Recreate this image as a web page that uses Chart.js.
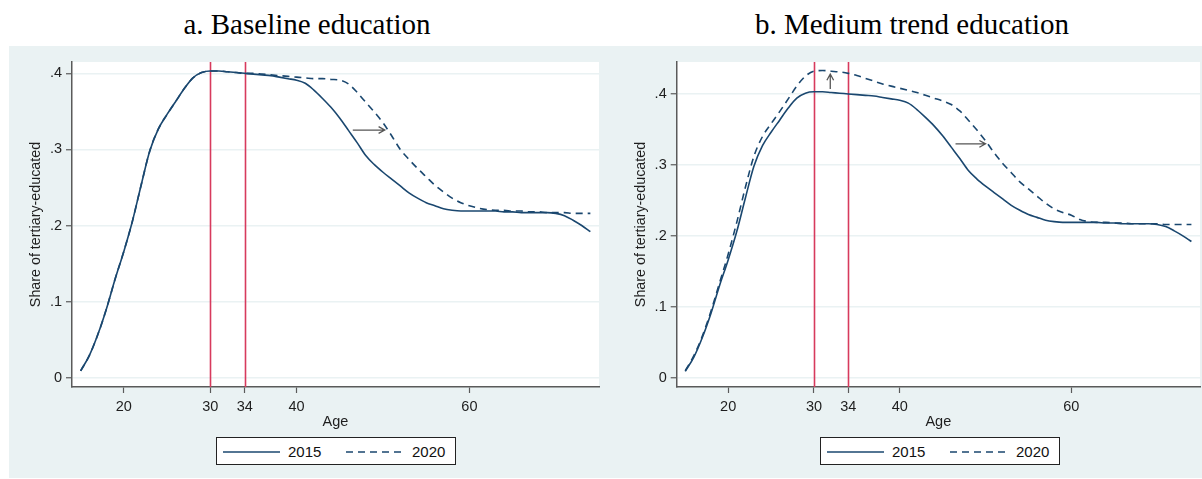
<!DOCTYPE html>
<html>
<head>
<meta charset="utf-8">
<script src="https://cdn.jsdelivr.net/npm/chart.js@4.4.1/dist/chart.umd.min.js"></script>
<style>
  body { margin: 0; width: 1202px; height: 479px; background: #fff; position: relative; overflow: hidden;
         font-family: "Liberation Sans", Arial, sans-serif; }
  #bg { position: absolute; left: 9px; top: 46px; width: 1193px; height: 432px; background: #eaf2f3; }
  .title { position: absolute; top: 10px; line-height: 29px; font-family: "Liberation Serif", "Times New Roman", serif;
           font-size: 29px; color: #000; white-space: nowrap; transform: translateX(-50%); }
  canvas { position: absolute; top: 0; }
  .legend { position: absolute; top: 437px; width: 240px; height: 28px; box-sizing: border-box; border: 1px solid #222;
            background: #fff; font-size: 15px; color: #111; }
  .legend svg { position: absolute; top: 0; left: 0; }
  .legend span { position: absolute; top: 5px; }
</style>
</head>
<body>
<div id="bg"></div>
<div class="title" style="left:307px">a. Baseline education</div>
<div class="title" style="left:912px">b. Medium trend education</div>
<canvas id="left" width="601" height="479" style="left:0"></canvas>
<canvas id="right" width="601" height="479" style="left:601px"></canvas>

<div class="legend" style="left:216px">
  <svg width="240" height="28"><line x1="6" y1="14" x2="63" y2="14" stroke="#1a476f" stroke-width="1.5"/>
    <line x1="129" y1="14" x2="187" y2="14" stroke="#1a476f" stroke-width="1.5" stroke-dasharray="7 5"/></svg>
  <span style="left:71px">2015</span><span style="left:195px">2020</span>
</div>
<div class="legend" style="left:820px">
  <svg width="240" height="28"><line x1="6" y1="14" x2="63" y2="14" stroke="#1a476f" stroke-width="1.5"/>
    <line x1="129" y1="14" x2="187" y2="14" stroke="#1a476f" stroke-width="1.5" stroke-dasharray="7 5"/></svg>
  <span style="left:71px">2015</span><span style="left:195px">2020</span>
</div>

<script>
// age profile, share of tertiary-educated
const ages = [15, 16, 17, 18, 19, 20, 21, 22, 23, 24, 25, 26, 27, 28, 29, 30, 31, 32, 33, 34,
              35, 36, 37, 38, 39, 40, 41, 42, 43, 44, 45, 46, 47, 48, 49, 50, 51, 52, 53, 54,
              55, 56, 57, 58, 59, 60, 61, 62, 63, 64, 65, 66, 67, 68, 69, 70, 71, 72, 73, 74];

const share2015 = [0.009, 0.029, 0.057, 0.091, 0.130, 0.166, 0.206, 0.253, 0.298, 0.327,
                   0.346, 0.363, 0.380, 0.394, 0.401, 0.403, 0.403, 0.402, 0.401, 0.400,
                   0.399, 0.398, 0.397, 0.395, 0.393, 0.391, 0.387, 0.378, 0.367, 0.355,
                   0.341, 0.325, 0.309, 0.292, 0.280, 0.270, 0.261, 0.252, 0.243, 0.236,
                   0.230, 0.226, 0.222, 0.220, 0.219, 0.219, 0.219, 0.219, 0.219, 0.218,
                   0.218, 0.217, 0.217, 0.217, 0.217, 0.216, 0.213, 0.207, 0.200, 0.192];

const baseline2020 = [0.009, 0.029, 0.057, 0.091, 0.130, 0.166, 0.206, 0.253, 0.298, 0.327,
                      0.346, 0.363, 0.380, 0.394, 0.401, 0.403, 0.403, 0.402, 0.401, 0.400,
                      0.400, 0.399, 0.398, 0.397, 0.396, 0.395, 0.394, 0.393, 0.393, 0.392,
                      0.391, 0.386, 0.375, 0.362, 0.349, 0.335, 0.318, 0.300, 0.287, 0.275,
                      0.264, 0.253, 0.244, 0.236, 0.230, 0.226, 0.223, 0.221, 0.220, 0.220,
                      0.219, 0.219, 0.218, 0.218, 0.217, 0.217, 0.217, 0.216, 0.216, 0.216];

const medium2020 = [0.010, 0.031, 0.059, 0.094, 0.134, 0.174, 0.219, 0.268, 0.312, 0.340,
                    0.358, 0.375, 0.393, 0.411, 0.425, 0.432, 0.433, 0.432, 0.431, 0.429,
                    0.426, 0.422, 0.418, 0.414, 0.411, 0.408, 0.405, 0.402, 0.398, 0.394,
                    0.390, 0.385, 0.376, 0.363, 0.349, 0.334, 0.317, 0.302, 0.289, 0.276,
                    0.266, 0.256, 0.246, 0.238, 0.233, 0.229, 0.223, 0.220, 0.219, 0.219,
                    0.218, 0.218, 0.217, 0.217, 0.217, 0.217, 0.216, 0.216, 0.216, 0.216];

const ageTicks = [20, 30, 34, 40, 60];
const shareTicks = [0, 0.1, 0.2, 0.3, 0.4];
const markedAges = [30, 34];

const navy = '#1a476f';
const axisGray = '#5a5a5a';

const decor = {
  id: 'decor',
  beforeDraw(chart) {
    const { ctx, chartArea: a } = chart;
    ctx.save();
    ctx.fillStyle = '#fff';
    ctx.fillRect(a.left, a.top, a.right - a.left, a.bottom - a.top);
    ctx.restore();
  },
  beforeDatasetsDraw(chart) {
    const { ctx, chartArea: a, scales: { x } } = chart;
    ctx.save();
    ctx.strokeStyle = '#d73a5d';
    ctx.lineWidth = 1.6;
    markedAges.forEach(age => {
      const px = Math.round(x.getPixelForValue(age)) + 0.5;
      ctx.beginPath();
      ctx.moveTo(px, a.top);
      ctx.lineTo(px, a.bottom);
      ctx.stroke();
    });
    ctx.restore();
  },
  afterDatasetsDraw(chart, args, opts) {
    const { ctx, scales: { x, y } } = chart;
    ctx.save();
    ctx.strokeStyle = '#555';
    ctx.lineWidth = 1.3;
    (opts.arrows || []).forEach(ar => {
      const x0 = x.getPixelForValue(ar.from[0]), y0 = y.getPixelForValue(ar.from[1]);
      const x1 = x.getPixelForValue(ar.to[0]), y1 = y.getPixelForValue(ar.to[1]);
      const ang = Math.atan2(y1 - y0, x1 - x0), h = 7;
      ctx.beginPath();
      ctx.moveTo(x0, y0);
      ctx.lineTo(x1, y1);
      ctx.moveTo(x1 - h * Math.cos(ang - 0.5), y1 - h * Math.sin(ang - 0.5));
      ctx.lineTo(x1, y1);
      ctx.lineTo(x1 - h * Math.cos(ang + 0.5), y1 - h * Math.sin(ang + 0.5));
      ctx.stroke();
    });
    ctx.restore();
  }
};

function points(values) {
  return ages.map((a, i) => ({ x: a, y: values[i] }));
}

function panel(id, later, yMin, yMax, axisWidth, titlePad, arrows) {
  return new Chart(document.getElementById(id), {
    type: 'line',
    data: {
      datasets: [
        { label: '2015', data: points(share2015), borderColor: navy },
        { label: '2020', data: points(later), borderColor: navy, borderDash: [7, 5] }
      ]
    },
    options: {
      responsive: false,
      animation: false,
      devicePixelRatio: 1,
      layout: { padding: { top: 62, right: 2, bottom: 42, left: 0 } },
      elements: {
        point: { radius: 0 },
        line: { borderWidth: 1.6, cubicInterpolationMode: 'monotone' }
      },
      plugins: {
        legend: { display: false },
        tooltip: { enabled: false },
        decor: { arrows }
      },
      scales: {
        x: {
          type: 'linear', min: 14, max: 75,
          afterBuildTicks: s => { s.ticks = ageTicks.map(v => ({ value: v })); },
          afterFit: s => { s.height = 50; },
          grid: { drawOnChartArea: false, tickLength: 6, tickColor: axisGray, tickWidth: 1.2 },
          border: { color: axisGray, width: 1.5 },
          ticks: { font: { size: 14.5 }, color: '#1e1e1e', padding: 5, maxRotation: 0, autoSkip: false },
          title: { display: true, text: 'Age', font: { size: 14.5 }, color: '#1e1e1e', padding: { top: 0, bottom: 6 } }
        },
        y: {
          min: yMin, max: yMax,
          afterBuildTicks: s => { s.ticks = shareTicks.map(v => ({ value: v })); },
          afterFit: s => { s.width = axisWidth; },
          grid: { color: '#eaf2f3', lineWidth: 1.5, tickLength: 6, tickColor: axisGray, tickWidth: 1.2 },
          border: { color: axisGray, width: 1.5 },
          ticks: {
            font: { size: 14.5 }, color: '#1e1e1e', padding: 4,
            callback: v => v === 0 ? '0' : String(v).replace(/^0/, '')
          },
          title: { display: true, text: 'Share of tertiary-educated', font: { size: 14.3 }, color: '#1e1e1e',
                   padding: { top: titlePad, bottom: 0 } }
        }
      }
    },
    plugins: [decor]
  });
}

panel('left', baseline2020, -0.0122, 0.4149, 72, 27, [{ from: [46.5, 0.3255], to: [50.2, 0.3255] }]);
panel('right', medium2020, -0.0131, 0.445, 75.7, 31,
      [{ from: [46.5, 0.3296], to: [50.0, 0.3296] }, { from: [31.9, 0.407], to: [31.9, 0.428] }]);
</script>
</body>
</html>
